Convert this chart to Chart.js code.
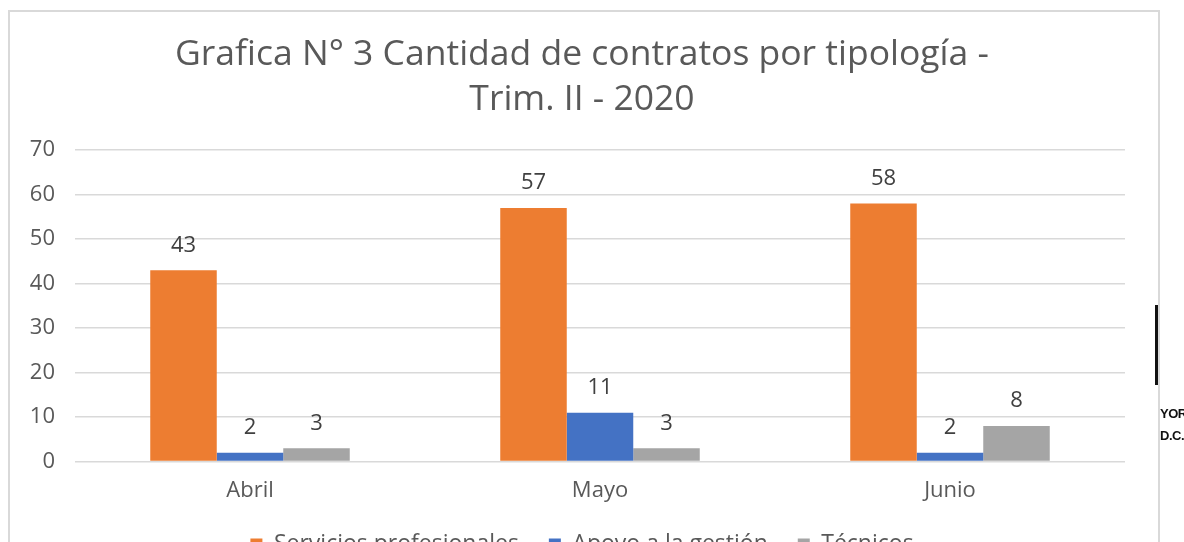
<!DOCTYPE html>
<html>
<head>
<meta charset="utf-8">
<script src="https://cdn.jsdelivr.net/npm/chart.js@4.4.0/dist/chart.umd.min.js"></script>
<style>
  body { margin: 0; background: #fff; overflow: hidden; width: 1184px; height: 542px; position: relative; }
  #frame { position: absolute; left: 8px; top: 10px; width: 1148px; height: 600px; border: 2px solid #d9d9d9; }
  #myChart { display: block; }
  .logo-text { position: absolute; left: 1160px; font: bold 13px "Liberation Sans", Arial, sans-serif; color: #111; letter-spacing: -0.5px; }
  #logoBar { position: absolute; left: 1155px; top: 305px; width: 3px; height: 80px; background: #111; }
</style>
</head>
<body>
<div id="frame"><canvas id="myChart" width="1148" height="571"></canvas></div>
<div id="logoBar"></div>
<div class="logo-text" style="top: 406px;">YOR</div>
<div class="logo-text" style="top: 428px;">D.C.</div>
<script>
const months = ["Abril", "Mayo", "Junio"];
const profesionales = [43, 57, 58];
const apoyo = [2, 11, 2];
const tecnicos = [3, 3, 8];
const yTicks = [0, 10, 20, 30, 40, 50, 60, 70];

const titleLines = ["Grafica N° 3 Cantidad de contratos por tipología -", "Trim. II - 2020"];
const fontName = "'Open Sans', sans-serif";
const textColor = "#595959";

// values above each bar
const valueLabels = {
  id: "valueLabels",
  afterDatasetsDraw(chart) {
    var ctx = chart.ctx;
    ctx.save();
    ctx.font = "22px " + fontName;
    ctx.fillStyle = "#404040";
    ctx.textAlign = "center";
    ctx.textBaseline = "middle";
    chart.data.datasets.forEach(function (ds, i) {
      chart.getDatasetMeta(i).data.forEach(function (bar, j) {
        ctx.fillText(ds.data[j], bar.x, bar.y - 25);
      });
    });
    ctx.restore();
  },
};

// pull the legend up closer to the month labels
const legendShift = {
  id: "legendShift",
  afterLayout(chart) {
    chart.legend.top -= 17;
    chart.legend.bottom -= 17;
  },
};

new Chart(document.getElementById("myChart"), {
  type: "bar",
  data: {
    labels: months,
    datasets: [
      { label: "Servicios profesionales", data: profesionales, backgroundColor: "#ED7D31" },
      { label: "Apoyo a la gestión", data: apoyo, backgroundColor: "#4472C4" },
      { label: "Técnicos", data: tecnicos, backgroundColor: "#A5A5A5" },
    ],
  },
  options: {
    responsive: false,
    animation: false,
    layout: { padding: { left: 14, right: 18, top: 0, bottom: 0 } },
    datasets: {
      bar: { categoryPercentage: 0.57, barPercentage: 1.0 },
    },
    plugins: {
      title: {
        display: true,
        text: titleLines,
        color: textColor,
        font: { family: fontName, size: 35.5, weight: "normal", lineHeight: 1.27 },
        padding: { top: 20, bottom: 28 },
      },
      legend: {
        position: "bottom",
        labels: {
          color: textColor,
          font: { family: fontName, size: 23 },
          boxWidth: 12,
          boxHeight: 12,
          padding: 30,
        },
      },
      tooltip: { enabled: false },
    },
    scales: {
      x: {
        grid: { display: false, drawTicks: false },
        border: { display: false },
        ticks: { color: textColor, font: { family: fontName, size: 22 }, padding: 16 },
      },
      y: {
        min: 0,
        max: 70,
        afterBuildTicks(axis) {
          axis.ticks = yTicks.map(function (v) { return { value: v }; });
        },
        afterFit(axis) {
          axis.width = 51;
        },
        grid: { color: "#d9d9d9", lineWidth: 1.5, drawTicks: false },
        border: { display: false },
        ticks: { color: textColor, font: { family: fontName, size: 22 }, padding: 20 },
      },
      // empty right-hand space between the plot and the frame
      yRight: {
        position: "right",
        grid: { display: false, drawTicks: false },
        border: { display: false },
        ticks: { display: false },
        afterFit(axis) {
          axis.width = 15;
        },
      },
    },
  },
  plugins: [valueLabels, legendShift],
});
</script>
</body>
</html>
